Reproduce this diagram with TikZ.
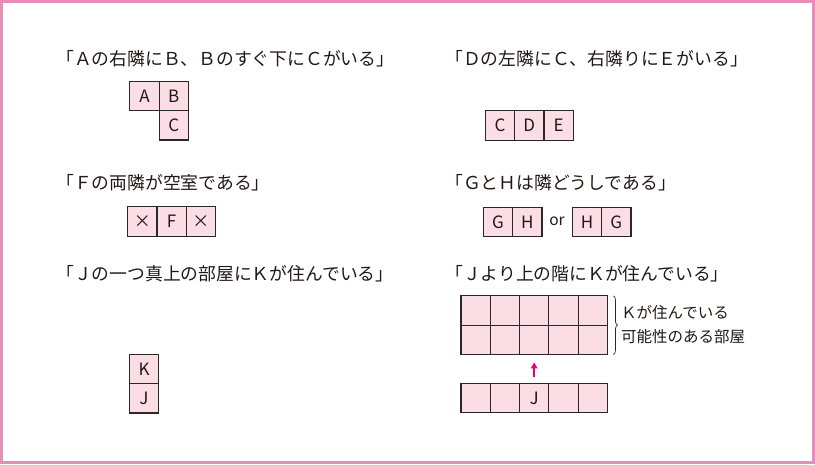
\documentclass[tikz,border=0pt]{standalone}
\usepackage{fontspec}
\setmainfont{Noto Sans CJK JP}
\usetikzlibrary{arrows.meta,decorations.pathreplacing}
\definecolor{framepink}{RGB}{230,141,184}
\definecolor{roompink}{RGB}{251,221,230}
\definecolor{roomline}{RGB}{45,40,40}
\definecolor{arrowpink}{RGB}{230,0,126}
\definecolor{inktext}{RGB}{35,24,21}
\begin{document}
\begin{tikzpicture}
  [x=1pt,y=-1pt,
   room/.style={rectangle,draw=roomline,fill=roompink,line width=1.1pt,
                outer sep=0,inner sep=0,minimum size=29.3pt,text=inktext,
                font=\fontsize{17}{17}\selectfont},
   caption/.style={anchor=west,inner sep=0,text=inktext,
                   font=\fontsize{17.8}{20}\selectfont},
   note/.style={anchor=west,inner sep=0,align=left,text=inktext,
                font=\fontsize{15.5}{24}\selectfont},
   uparrow/.style={draw=arrowpink,line width=1.5pt,
                   -{Triangle[length=6pt,width=6.5pt]}},
   bracket/.style={decorate,decoration={brace,amplitude=4pt},
                   draw=roomline,line width=0.7pt}]
  \useasboundingbox (0,0) rectangle (815,464);
  \draw[framepink,line width=3pt] (1.5,1.5) rectangle (813.5,462.5);
  % captions
  \node[caption] (capA) at (56,59) {「Ａの右隣にＢ、Ｂのすぐ下にＣがいる」};
  \node[caption] (capD) at (445,59) {「Ｄの左隣にＣ、右隣りにＥがいる」};
  \node[caption] (capF) at (56,183) {「Ｆの両隣が空室である」};
  \node[caption] (capG) at (445,183) {「ＧとＨは隣どうしである」};
  \node[caption] (capK) at (56,274) {「Ｊの一つ真上の部屋にＫが住んでいる」};
  \node[caption] (capU) at (445,274) {「Ｊより上の階にＫが住んでいる」};
  % A B C
  \node[room] (A) at (144.5,96) {A};
  \node[room] (B) at (173.8,96) {B};
  \node[room] (C) at (173.8,125.3) {C};
  % C D E
  \node[room] (C2) at (500,125.5) {C};
  \node[room] (D) at (529.3,125.5) {D};
  \node[room] (E) at (558.6,125.5) {E};
  % x F x
  \node[room] (xl) at (142.3,221.5) {×};
  \node[room] (F) at (171.6,221.5) {F};
  \node[room] (xr) at (200.9,221.5) {×};
  % G H or H G
  \node[room] (G1) at (498,222) {G};
  \node[room] (H1) at (527.3,222) {H};
  \node[note,anchor=center] (or) at (557,221) {or};
  \node[room] (H2) at (587,222) {H};
  \node[room] (G2) at (616.3,222) {G};
  % K over J
  \node[room] (K) at (144,369) {K};
  \node[room] (J) at (144,398.3) {J};
  % floors above J
  \node[room] (u11) at (475.6,310.5) {};
  \node[room] (u12) at (504.9,310.5) {};
  \node[room] (u13) at (534.2,310.5) {};
  \node[room] (u14) at (563.5,310.5) {};
  \node[room] (u15) at (592.8,310.5) {};
  \node[room] (u21) at (475.6,339.8) {};
  \node[room] (u22) at (504.9,339.8) {};
  \node[room] (u23) at (534.2,339.8) {};
  \node[room] (u24) at (563.5,339.8) {};
  \node[room] (u25) at (592.8,339.8) {};
  % J floor
  \node[room] (j1) at (475.6,398) {};
  \node[room] (j2) at (504.9,398) {};
  \node[room] (j3) at (534.2,398) {J};
  \node[room] (j4) at (563.5,398) {};
  \node[room] (j5) at (592.8,398) {};
  \draw[uparrow,shorten <=6pt,shorten >=8pt] (j3) -- (u23);
  \draw[bracket] ([xshift=6pt]u15.north east) -- ([xshift=6pt]u25.south east);
  \node[note] (maybe) at (621,325) {Ｋが住んでいる\\可能性のある部屋};
\end{tikzpicture}
\end{document}
